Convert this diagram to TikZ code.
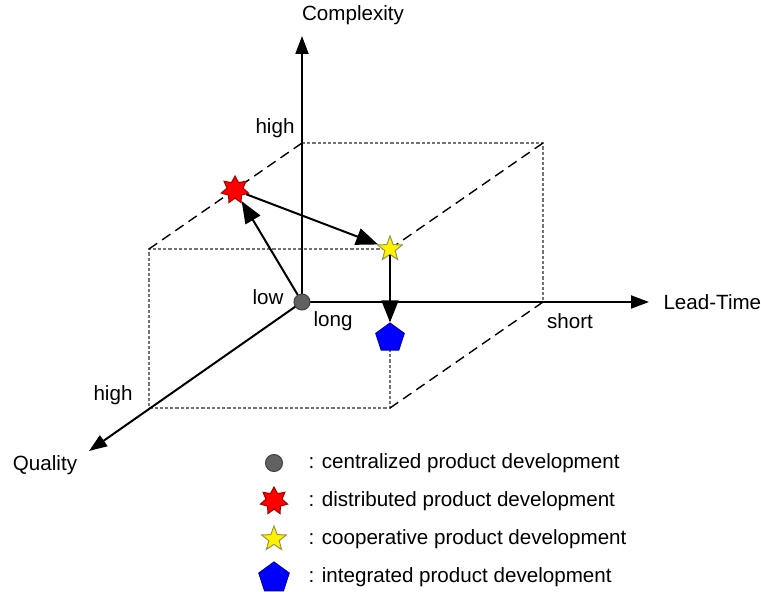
\documentclass[tikz,border=0pt]{standalone}
\usepackage{fontspec}
\setmainfont{Liberation Sans}
\usetikzlibrary{arrows.meta,positioning,shapes.geometric}
\tikzset{
    >={Triangle[length=11pt,width=8.5pt]},
    every picture/.style={line width=0.5pt},
    central/.style={circle,draw=black!75,fill=black!62,minimum size=8pt,inner sep=0pt},
    distrib/.style={star,star points=7,star point ratio=1.7,draw=red!65!black,fill=red,minimum size=14pt,inner sep=0pt},
    cooper/.style={star,star points=5,star point ratio=2.4,draw=black!45!yellow,fill=yellow,minimum size=13pt,inner sep=0pt},
    integr/.style={regular polygon,regular polygon sides=5,draw=blue!70!black,fill=blue,minimum size=15pt,inner sep=0pt}
}

\begin{document}
\begin{tikzpicture}[x=0.5pt,y=-0.5pt,
        font=\fontsize{10.3}{12.4}\selectfont,
        axis/.style={line width=1pt,-{Triangle[length=9pt,width=6.5pt]}},
        move/.style={line width=1pt,->},
        boxline/.style={draw=black!55,dash pattern=on 1.6pt off 1pt,line width=0.6pt},
        boxedge/.style={dash pattern=on 5pt off 3pt,line width=0.7pt},
        legtext/.style={anchor=west,inner sep=0pt}]
    \useasboundingbox (0,0) rectangle (761,592);
    % corners of the box
    \coordinate (O) at (302,302);
    \coordinate (A) at (302,143);
    \coordinate (B) at (543,143);
    \coordinate (C) at (543,302);
    \coordinate (D) at (149,249);
    \coordinate (E) at (390,249);
    \coordinate (F) at (149,408);
    \coordinate (G) at (390,408);
    % axis ends
    \coordinate (cTop) at (302,36);
    \coordinate (lEnd) at (649,302);
    \coordinate (qEnd) at (89,451);

    \draw[boxline] (A) -- (B) -- (C);
    \draw[boxline] (E) -- (D) -- (F) -- (G) -- (E);
    \draw[boxedge] (D) -- (A);
    \draw[boxedge] (E) -- (B);
    \draw[boxedge] (G) -- (C);

    \draw[axis] (O) -- (cTop);
    \draw[axis] (O) -- (lEnd);
    \draw[axis] (O) -- (qEnd);

    \node (cLab) at (353,15) {Complexity};
    \node[right=7pt of lEnd,inner sep=0pt] (lLab) {Lead-Time};
    \node (qLab) at (45,465) {Quality};
    \node (cHigh) at (275,128) {high};
    \node (cLow) at (268,297) {low};
    \node (lLong) at (333,321) {long};
    \node (lShort) at (570,321) {short};
    \node (qHigh) at (113,395) {high};

    % development forms
    \node[central] (cen) at (O) {};
    \node[distrib] (dis) at (235,190) {};
    \node[cooper] (coo) at (E) {};
    \node[integr] (int) at (390,338) {};
    \draw[move] (cen) -- (dis);
    \draw[move] (dis) -- (coo);
    \draw[move] (coo) -- (int);

    % legend
    \node[central,minimum size=8.5pt] (lg1) at (274,463) {};
    \node[distrib] (lg2) at (274,501) {};
    \node[cooper] (lg3) at (274,539) {};
    \node[integr,minimum size=16pt] (lg4) at (274,578) {};
    \node[legtext] (lt1) at (308,463) {: centralized product development};
    \node[legtext] (lt2) at (308,501) {: distributed product development};
    \node[legtext] (lt3) at (308,539) {: cooperative product development};
    \node[legtext] (lt4) at (308,577) {: integrated product development};
\end{tikzpicture}
\end{document}
